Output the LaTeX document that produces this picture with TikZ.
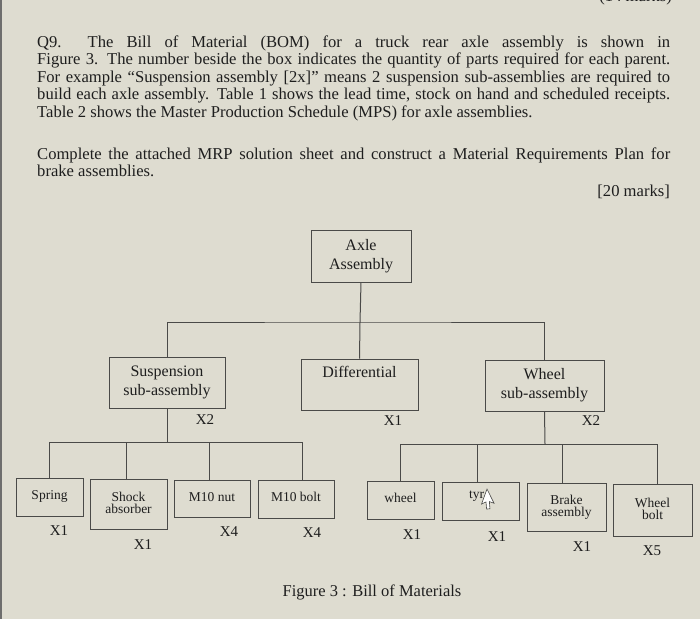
\documentclass[tikz,border=0pt]{standalone}
\usepackage{fontspec}
\setmainfont{Liberation Serif}
\definecolor{bg}{HTML}{DEDCD0}
\definecolor{linec}{HTML}{4A4A48}
\definecolor{txt}{HTML}{1E1E1E}
\begin{document}
\begin{tikzpicture}[x=1pt,y=-1pt,
  box/.style={draw=linec, line width=1pt, align=center, inner sep=0pt, text=txt},
  bigf/.style={font=\fontsize{16}{19}\selectfont},
  smallf/.style={font=\fontsize{13.5}{15}\selectfont},
  qty/.style={font=\fontsize{15}{15}\selectfont, text=txt, inner sep=0pt},
  para/.style={font=\fontsize{16.6}{18}\selectfont, text=txt, inner sep=0pt, anchor=base west},
  link/.style={draw=linec, line width=1pt}]
\useasboundingbox (0,0) rectangle (700,619);
\fill[bg] (0,0) rectangle (700,619);
\clip (0,0) rectangle (700,619);
\fill[linec!80] (0,0) rectangle (2,619);

% partially visible top text (cut off at the top edge, as in the reference)
\node[para, anchor=base east] (top) at (672,1) {(14 marks)};

% paragraph
\node[para] (p1) at (37,47) {\makebox[633pt][s]{Q9.\ \ The Bill of Material (BOM) for a truck rear axle assembly is shown in}};
\node[para] (p2) at (37,64.5) {\makebox[633pt][s]{Figure 3. The number beside the box indicates the quantity of parts required for each parent.}};
\node[para] (p3) at (37,82) {\makebox[633pt][s]{For example “Suspension assembly [2x]” means 2 suspension sub-assemblies are required to}};
\node[para] (p4) at (37,99.5) {\makebox[633pt][s]{build each axle assembly. Table 1 shows the lead time, stock on hand and scheduled receipts.}};
\node[para] (p5) at (37,117) {Table 2 shows the Master Production Schedule (MPS) for axle assemblies.};
\node[para] (p6) at (37,159) {\makebox[633pt][s]{Complete the attached MRP solution sheet and construct a Material Requirements Plan for}};
\node[para] (p7) at (37,176.5) {brake assemblies.};
\node[para, anchor=base east] (p8) at (670,196) {[20 marks]};

% level 0 and 1
\node[box,bigf,minimum width=100pt,minimum height=52pt] (axle) at (361,256) {Axle\\Assembly};
\node[box,bigf,minimum width=116pt,minimum height=51pt] (susp) at (167,382.5) {Suspension\\sub-assembly};
\node[box,bigf,minimum width=117pt,minimum height=51pt] (diff) at (359.5,384.5) {Differential\\\strut};
\node[box,bigf,minimum width=119pt,minimum height=51pt] (wsub) at (544.5,385.5) {Wheel\\sub-assembly};

% level 2
\node[box,smallf,minimum width=67pt,minimum height=38pt] (spring) at (49.5,497) {\raisebox{4pt}{Spring}};
\node[box,smallf,minimum width=77pt,minimum height=50pt] (shock) at (128.5,504) {\raisebox{4pt}{\begin{tabular}{@{}c@{}}Shock\\[-3pt]absorber\end{tabular}}};
\node[box,smallf,minimum width=76pt,minimum height=37pt] (nut) at (212,498.5) {\raisebox{4pt}{M10 nut}};
\node[box,smallf,minimum width=76pt,minimum height=38pt] (bolt) at (296,499) {\raisebox{4pt}{M10 bolt}};
\node[box,smallf,minimum width=67pt,minimum height=38pt] (wheel) at (400.5,500) {\raisebox{4pt}{wheel}};
\node[box,smallf,minimum width=77pt,minimum height=38pt] (tyre) at (480.5,501) {};
\node[smallf, text=txt, anchor=west, inner sep=0pt] (tyrt) at (469,496) {tyr};
\node[box,smallf,minimum width=79pt,minimum height=48pt] (brake) at (566.5,507) {\begin{tabular}{@{}c@{}}Brake\\[-3pt]assembly\end{tabular}};
\node[box,smallf,minimum width=79pt,minimum height=52pt] (wbolt) at (652.5,510) {\raisebox{2pt}{\begin{tabular}{@{}c@{}}Wheel\\[-3pt]bolt\end{tabular}}};

% mouse cursor
\filldraw[fill=white, draw=linec, line width=0.6pt, rotate around={-20:(487,489)}]
  (487,489) -- (487,505) -- (490.5,501.5) -- (493.5,508) -- (496.5,506.5) -- (493.5,500) -- (498.5,500) -- cycle;

% connectors level 0 -> 1
\coordinate (bus1) at (360,322);
\draw[link] (axle.south) -- (bus1);
\draw[link] (susp.north) |- (bus1) -| (wsub.north);
\draw[link] (bus1) -- (diff.north);

% suspension children
\coordinate (bus2) at (167,442);
\draw[link] (susp.south) -- (bus2);
\draw[link] (spring.north) |- ([xshift=6pt]bolt.north |- bus2) -- ([xshift=6pt]bolt.north);
\draw[link] ([xshift=-2.5pt]shock.north) -- ([xshift=-2.5pt]shock.north |- bus2);
\draw[link] ([xshift=-3pt]nut.north) -- ([xshift=-3pt]nut.north |- bus2);

% wheel children
\coordinate (bus3) at (545,444);
\draw[link] (wsub.south) -- (bus3);
\draw[link] (wheel.north) |- ([xshift=4.5pt]wbolt.north |- bus3) -- ([xshift=4.5pt]wbolt.north);
\draw[link] ([xshift=-3.5pt]tyre.north) -- ([xshift=-3.5pt]tyre.north |- bus3);
\draw[link] ([xshift=-4.5pt]brake.north) -- ([xshift=-4.5pt]brake.north |- bus3);

% quantities
\node[qty] (q1) at (205,420) {X2};
\node[qty] (q2) at (393,421) {X1};
\node[qty] (q3) at (591,421) {X2};
\node[qty] (q4) at (59,531) {X1};
\node[qty] (q5) at (143,545) {X1};
\node[qty] (q6) at (229,532) {X4};
\node[qty] (q7) at (312,533) {X4};
\node[qty] (q8) at (412,535) {X1};
\node[qty] (q9) at (497,537) {X1};
\node[qty] (q10) at (582,547) {X1};
\node[qty] (q11) at (652,551) {X5};

% caption
\node[font=\fontsize{16.5}{18}\selectfont, text=txt, inner sep=0pt] (cap) at (372,592) {Figure 3 : Bill of Materials};
\end{tikzpicture}
\end{document}
